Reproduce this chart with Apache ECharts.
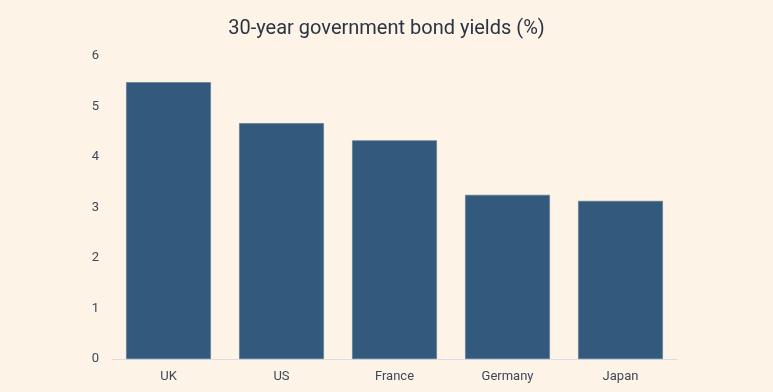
<!DOCTYPE html>
<html>
<head>
<meta charset="utf-8">
<script src="https://cdn.jsdelivr.net/npm/echarts@6/dist/echarts.min.js"></script>
<style>
html,body{margin:0;padding:0;background:#fdf3e6;}
#c{width:773px;height:392px;}
</style>
</head>
<body>
<div id="c"></div>
<script>
const categories = ['UK', 'US', 'France', 'Germany', 'Japan'];
const yields = [5.48, 4.67, 4.33, 3.25, 3.13];
const titleText = '30-year government bond yields (%)';

const chart = echarts.init(document.getElementById('c'), null, {renderer: 'canvas'});
chart.setOption({
  backgroundColor: '#fdf3e6',
  animation: false,
  title: {
    text: titleText,
    left: 'center',
    top: 14,
    textStyle: {fontFamily: 'Roboto', fontSize: 20, fontWeight: 'normal', color: '#2b3444'}
  },
  grid: {left: 112, right: 96, top: 56, bottom: 33, containLabel: false},
  xAxis: {
    type: 'category',
    data: categories,
    axisLine: {show: true, lineStyle: {color: '#d9dee4', width: 1}},
    axisTick: {show: false},
    axisLabel: {fontFamily: 'Roboto', fontSize: 13, color: '#3d4859', margin: 11}
  },
  yAxis: {
    type: 'value',
    min: 0, max: 6, interval: 1,
    splitLine: {show: false},
    axisLine: {show: false},
    axisTick: {show: false},
    axisLabel: {fontFamily: 'Roboto', fontSize: 13, color: '#3d4859', margin: 13}
  },
  series: [{
    type: 'bar',
    data: yields,
    barCategoryGap: '25%',
    itemStyle: {color: '#335a7c', borderColor: '#557591', borderWidth: 0.6}
  }]
});
</script>
</body>
</html>
